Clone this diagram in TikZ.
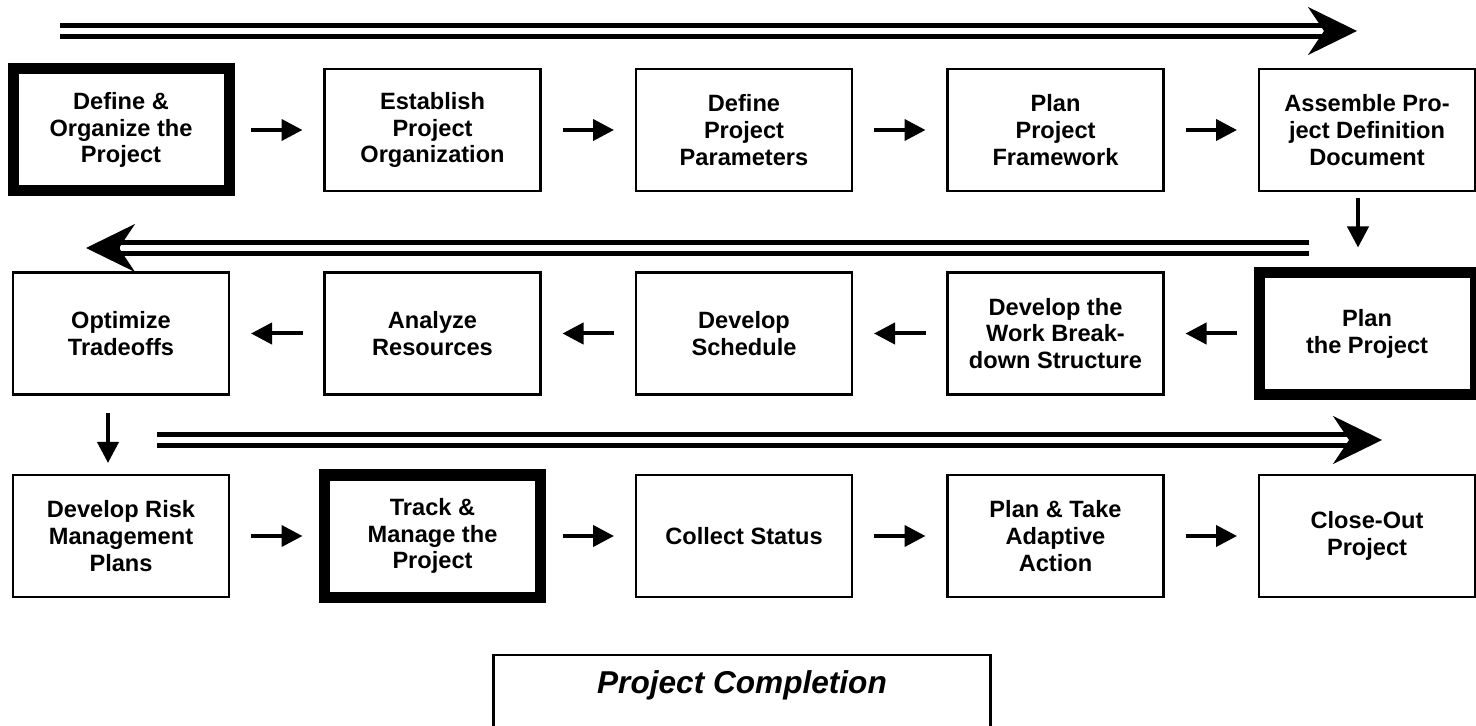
\documentclass[tikz,border=0pt]{standalone}
\usepackage{fontspec}
\setmainfont{Liberation Sans}
\usepackage{tikz}
\usetikzlibrary{arrows.meta}

\tikzset{
	task/.style={draw, line width=1.2pt, fill=white, minimum width=108pt, minimum height=61pt,
		inner sep=0pt, outer sep=0pt, align=center, font=\fontsize{11.8}{13.4}\selectfont\bfseries},
	phase/.style={task, line width=5.5pt},
	link/.style={line width=2pt, -{Triangle[length=10.5pt,width=10.5pt]}, shorten <=11pt, shorten >=11pt},
	flow/.style={double, line width=2.6pt, double distance=3pt},
	flowhead/.style={line width=1pt, -{Stealth[length=24.5pt,width=24pt,inset=8pt]}},
	donebox/.style={draw, line width=1.2pt, anchor=north, minimum width=248.5pt, inner ysep=0pt,
		text height=19pt, text depth=30pt, font=\fontsize{15.8}{18}\selectfont\bfseries\itshape}
}

\begin{document}
\begin{tikzpicture}[x=0.5pt, y=-0.5pt]
				\useasboundingbox (0,0) rectangle (1476,726);
				\clip (0,0) rectangle (1476,726);
				
				% first row
				\node [phase] (organize) at (121,130) {Define \&\\Organize the\\Project};
				\node [task] (establish) at (432.5,130) {Establish\\Project\\Organization};
				\node [task] (parameters) at (744,130) {Define\\Project\\Parameters};
				\node [task] (framework) at (1055.5,130) {Plan\\Project\\Framework};
				\node [task] (assemble) at (1367,130) {Assemble Pro-\\ject Definition\\Document};
				
				% second row, read right to left
				\node [phase] (plan) at (1367,333.5) {Plan\\the Project};
				\node [task] (wbs) at (1055.5,333.5) {Develop the\\Work Break-\\down Structure};
				\node [task] (schedule) at (744,333.5) {Develop\\Schedule};
				\node [task] (resources) at (432.5,333.5) {Analyze\\Resources};
				\node [task] (tradeoffs) at (121,333.5) {Optimize\\Tradeoffs};
				
				% third row
				\node [task] (risk) at (121,536) {Develop Risk\\Management\\Plans};
				\node [phase] (track) at (432.5,536) {Track \&\\Manage the\\Project};
				\node [task] (status) at (744,536) {Collect Status};
				\node [task] (adaptive) at (1055.5,536) {Plan \& Take\\Adaptive\\Action};
				\node [task] (closeout) at (1367,536) {Close-Out\\Project};
				
				\node [donebox] (completion) at (742,654) {Project Completion};
				
				\draw [link] (organize) -- (establish);
				\draw [link] (establish) -- (parameters);
				\draw [link] (parameters) -- (framework);
				\draw [link] (framework) -- (assemble);
				\draw [link, shorten <=3.5pt, shorten >=12.5pt] ([xshift=-4.5pt]assemble.south) -- ([xshift=-4.5pt]plan.north);
				
				\draw [link] (plan) -- (wbs);
				\draw [link] (wbs) -- (schedule);
				\draw [link] (schedule) -- (resources);
				\draw [link] (resources) -- (tradeoffs);
				\draw [link, shorten <=9.5pt, shorten >=6pt] ([xshift=-6.5pt]tradeoffs.south) -- ([xshift=-6.5pt]risk.north);
				
				\draw [link] (risk) -- (track);
				\draw [link] (track) -- (status);
				\draw [link] (status) -- (adaptive);
				\draw [link] (adaptive) -- (closeout);
				
				% direction of each row
				\coordinate (flow1 start) at (60,31);
				\coordinate (flow1 join) at (1325,31);
				\coordinate (flow1 tip) at (1357,31);
				\coordinate (flow2 start) at (1309,248);
				\coordinate (flow2 join) at (120,248);
				\coordinate (flow2 tip) at (86,248);
				\coordinate (flow3 start) at (157,440);
				\coordinate (flow3 join) at (1350,440);
				\coordinate (flow3 tip) at (1382,440);
				
				\draw [flow] (flow1 start) -- (flow1 join);
				\draw [flowhead] (flow1 join) -- (flow1 tip);
				\draw [flow] (flow2 start) -- (flow2 join);
				\draw [flowhead] (flow2 join) -- (flow2 tip);
				\draw [flow] (flow3 start) -- (flow3 join);
				\draw [flowhead] (flow3 join) -- (flow3 tip);
\end{tikzpicture}
\end{document}
